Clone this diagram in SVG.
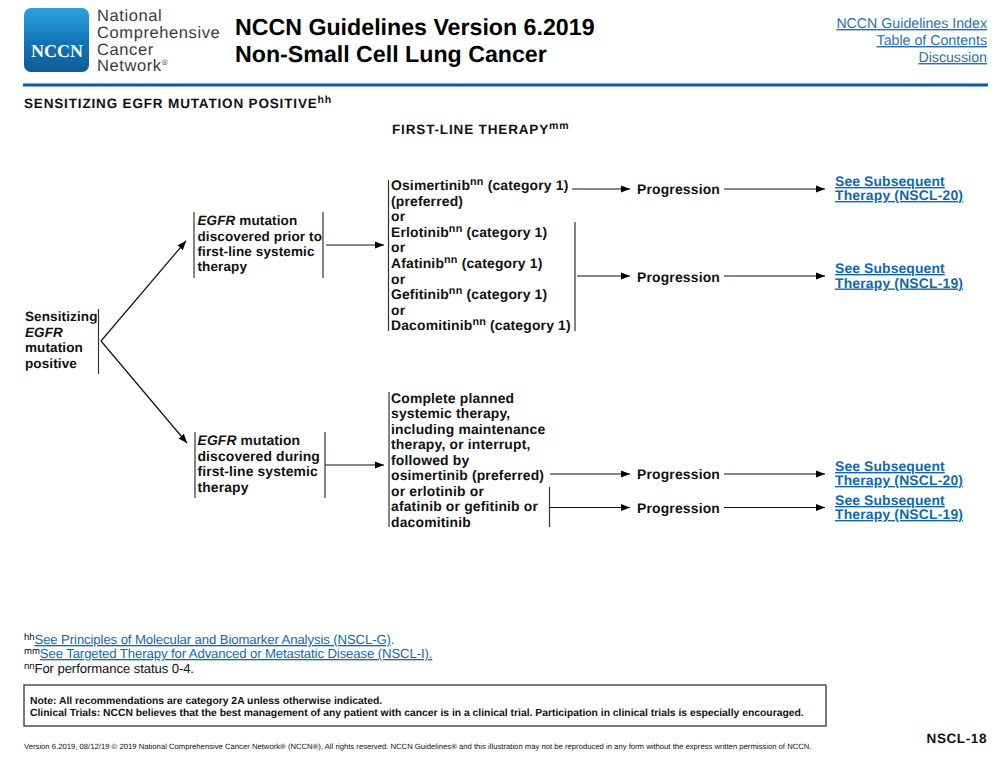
<svg xmlns="http://www.w3.org/2000/svg" width="1000" height="761" viewBox="0 0 1000 761">
<style>
text{font-family:"Liberation Sans",Arial,sans-serif;fill:#111;text-rendering:geometricPrecision}
.b{font-weight:bold;font-size:13.9px;letter-spacing:.12px}
.n{font-size:13.5px}
.m{letter-spacing:.18px}
.o{letter-spacing:.17px}
.i{font-style:italic}
.l{fill:#1268ab}
.s{font-size:.78em;baseline-shift:5.5px}
.fs{font-size:9.6px;baseline-shift:4.5px}
.bar{stroke:#333;stroke-width:1.2;fill:none}
.c{stroke:#111;stroke-width:1.2;fill:none;marker-end:url(#a)}
.t{font-weight:bold;font-size:23.2px;fill:#000}
.ln{font-size:14.2px;fill:#2a70b0;text-decoration:underline}
.f{font-size:13.15px;letter-spacing:-.1px}
.lg{font-size:16.5px;fill:#3a3a3a;letter-spacing:.6px}
.u{text-decoration:underline}
</style>
<defs>
<marker id="a" markerUnits="userSpaceOnUse" markerWidth="10" markerHeight="8" refX="9" refY="4" orient="auto"><path d="M0 .5L9 4L0 7.5z" fill="#000"/></marker>
<linearGradient id="g" x1="0" y1="0" x2="0" y2="1"><stop offset="0" stop-color="#2aa3df"/><stop offset=".55" stop-color="#1273b3"/><stop offset="1" stop-color="#0d5c98"/></linearGradient>
</defs>
<g id="header">
<rect x="24" y="8" width="65" height="64" rx="7" fill="url(#g)"/>
<text x="57" y="57" text-anchor="middle" style="font-family:'Liberation Serif',serif;font-weight:bold;font-size:18px;fill:#fff">NCCN</text>
<text class="lg" x="97" y="21">National</text>
<text class="lg" x="97" y="38">Comprehensive</text>
<text class="lg" x="97" y="55">Cancer</text>
<text class="lg" x="97" y="71">Network<tspan font-size="8" dy="-6">®</tspan></text>
<text class="t" x="235" y="35">NCCN Guidelines Version 6.2019</text>
<text class="t" x="235" y="62">Non-Small Cell Lung Cancer</text>
<text class="ln" x="987" y="28" text-anchor="end">NCCN Guidelines Index</text>
<text class="ln" x="987" y="45" text-anchor="end">Table of Contents</text>
<text class="ln" x="987" y="62" text-anchor="end">Discussion</text>
<rect x="23" y="83.500" width="965" height="3" fill="#0b5c9e"/>
<text x="24" y="108" style="font-weight:bold;font-size:13.5px;letter-spacing:.84px">SENSITIZING EGFR MUTATION POSITIVE<tspan class="s">hh</tspan></text>
<text x="392" y="134" style="font-weight:bold;font-size:13.5px;letter-spacing:.85px">FIRST-LINE THERAPY<tspan class="s">mm</tspan></text>
</g>
<g id="connectors">
<path class="c" d="M101 341L186 241"/>
<path class="c" d="M101 341L187 443"/>
<path class="c" d="M326 245H384"/>
<path class="c" d="M325 465H384"/>
<path class="c" d="M572 189H630"/>
<path class="c" d="M577 276H630"/>
<path class="c" d="M550 474H630"/>
<path class="c" d="M550 507.500H630"/>
<path class="c" d="M724 189H825"/>
<path class="c" d="M724 276H825"/>
<path class="c" d="M724 474H825"/>
<path class="c" d="M724 507.500H825"/>
</g>
<g id="n-sensitizing">
<path class="bar" d="M98.500 309V374"/>
<text class="b n" x="25" y="321">Sensitizing</text>
<text class="b n i" x="25" y="337">EGFR</text>
<text class="b n" x="25" y="352">mutation</text>
<text class="b n" x="25" y="368">positive</text>
</g>
<g id="n-prior">
<path class="bar" d="M194 212V278M323 212V278"/>
<text class="b n" x="197.500" y="225"><tspan class="i">EGFR</tspan> mutation</text>
<text class="b n" x="197.500" y="240.500">discovered prior to</text>
<text class="b n" x="197.500" y="256">first-line systemic</text>
<text class="b n" x="197.500" y="271">therapy</text>
</g>
<g id="n-during">
<path class="bar" d="M195 432V498M325 432V498"/>
<text class="b" x="197.500" y="445"><tspan class="i">EGFR</tspan> mutation</text>
<text class="b" x="197.500" y="460.500">discovered during</text>
<text class="b" x="197.500" y="476">first-line systemic</text>
<text class="b" x="197.500" y="491.500">therapy</text>
</g>
<g id="n-options">
<path class="bar" d="M388.500 180V331M575 222V331"/>
<text class="b o" x="391" y="190">Osimertinib<tspan class="s">nn</tspan> (category 1)</text>
<text class="b o" x="391" y="205.500">(preferred)</text>
<text class="b o" x="391" y="221">or</text>
<text class="b o" x="391" y="237">Erlotinib<tspan class="s">nn</tspan> (category 1)</text>
<text class="b o" x="391" y="252">or</text>
<text class="b o" x="391" y="268">Afatinib<tspan class="s">nn</tspan> (category 1)</text>
<text class="b o" x="391" y="283.500">or</text>
<text class="b o" x="391" y="299">Gefitinib<tspan class="s">nn</tspan> (category 1)</text>
<text class="b o" x="391" y="314.500">or</text>
<text class="b o" x="391" y="330">Dacomitinib<tspan class="s">nn</tspan> (category 1)</text>
</g>
<g id="n-complete">
<path class="bar" d="M389 392V527M549.500 487V527"/>
<text class="b m" x="391" y="402.500">Complete planned</text>
<text class="b m" x="391" y="418">systemic therapy,</text>
<text class="b m" x="391" y="433.500">including maintenance</text>
<text class="b m" x="391" y="449">therapy, or interrupt,</text>
<text class="b m" x="391" y="464.500">followed by</text>
<text class="b m" x="391" y="480">osimertinib (preferred)</text>
<text class="b m" x="391" y="495.500">or erlotinib or</text>
<text class="b m" x="391" y="511">afatinib or gefitinib or</text>
<text class="b m" x="391" y="526.500">dacomitinib</text>
</g>
<g id="n-prog1"><text class="b m" x="637" y="194">Progression</text></g>
<g id="n-prog2"><text class="b m" x="637" y="282">Progression</text></g>
<g id="n-prog3"><text class="b m" x="637" y="479">Progression</text></g>
<g id="n-prog4"><text class="b m" x="637" y="513">Progression</text></g>
<g id="n-link1"><text class="b l u" x="835" y="186">See Subsequent</text><text class="b l u m" x="835" y="200">Therapy (NSCL-20)</text></g>
<g id="n-link2"><text class="b l u" x="835" y="273">See Subsequent</text><text class="b l u m" x="835" y="287.500">Therapy (NSCL-19)</text></g>
<g id="n-link3"><text class="b l u" x="835" y="471">See Subsequent</text><text class="b l u m" x="835" y="485">Therapy (NSCL-20)</text></g>
<g id="n-link4"><text class="b l u" x="835" y="505">See Subsequent</text><text class="b l u m" x="835" y="519">Therapy (NSCL-19)</text></g>
<g id="footer">
<text class="f" x="24" y="644"><tspan class="fs">hh</tspan><tspan class="l u">See Principles of Molecular and Biomarker Analysis (NSCL-G)</tspan><tspan class="l">.</tspan></text>
<text class="f" x="24" y="658"><tspan class="fs">mm</tspan><tspan class="l u">See Targeted Therapy for Advanced or Metastatic Disease (NSCL-I).</tspan></text>
<text class="f" x="24" y="673"><tspan class="fs">nn</tspan>For performance status 0-4.</text>
<rect x="24" y="685" width="802" height="41" fill="none" stroke="#333" stroke-width="1.300"/>
<text x="30" y="703.500" style="font-weight:bold;font-size:10.350px">Note: All recommendations are category 2A unless otherwise indicated.</text>
<text x="30" y="715.500" style="font-weight:bold;font-size:10.350px">Clinical Trials: NCCN believes that the best management of any patient with cancer is in a clinical trial. Participation in clinical trials is especially encouraged.</text>
<text x="24" y="749" style="font-size:7.690px">Version 6.2019, 08/12/19 © 2019 National Comprehensive Cancer Network® (NCCN®), All rights reserved. NCCN Guidelines® and this illustration may not be reproduced in any form without the express written permission of NCCN.</text>
<text x="987" y="743" text-anchor="end" style="font-weight:bold;font-size:13.500px;letter-spacing:.6px">NSCL-18</text>
</g>
</svg>
